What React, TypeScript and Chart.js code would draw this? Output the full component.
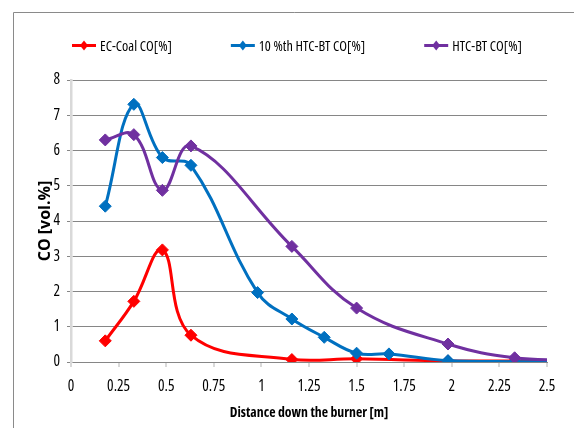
import React, { useEffect, useRef } from "react";
import { Chart, registerables } from "chart.js";

Chart.register(...registerables);

const seriesLabels = ["EC-Coal CO[%]", "10 %th HTC-BT CO[%]", "HTC-BT CO[%]"];
const seriesColors = ["#ff0000", "#0070c0", "#7030a0"];

const ecCoalX = [0.18, 0.33, 0.48, 0.63, 1.16, 1.5, 1.98, 2.33, 2.67];
const ecCoalY = [0.6, 1.72, 3.18, 0.76, 0.07, 0.09, 0.03, 0.03, 0.02];

const htc10X = [0.18, 0.33, 0.48, 0.63, 0.98, 1.16, 1.33, 1.5, 1.67, 1.98, 2.33, 2.67];
const htc10Y = [4.42, 7.31, 5.8, 5.58, 1.97, 1.22, 0.7, 0.25, 0.23, 0.04, 0.01, 0.01];

const htcX = [0.18, 0.33, 0.48, 0.63, 1.16, 1.5, 1.98, 2.33, 2.67];
const htcY = [6.3, 6.45, 4.87, 6.13, 3.28, 1.53, 0.51, 0.12, 0.05];

const xMin = 0;
const xMax = 2.5;
const xStep = 0.25;
const yMin = 0;
const yMax = 8;
const yStep = 1;

const xTitle = "Distance down the burner [m]";
const yTitle = "CO [vol.%]";

const FAMILY = '"Open Sans", sans-serif';

const toPoints = (xs: number[], ys: number[]) => xs.map((x, i) => ({ x, y: ys[i] }));

const framePlugin = {
  id: "frame",
  beforeDraw(chart: any) {
    const ctx = chart.ctx;
    ctx.save();
    ctx.fillStyle = "#ffffff";
    ctx.fillRect(0, 0, chart.width, chart.height);
    ctx.strokeStyle = "#8a8a8a";
    ctx.lineWidth = 1;
    ctx.beginPath();
    ctx.moveTo(13.5, chart.height + 5);
    ctx.lineTo(13.5, 12.5);
    ctx.lineTo(chart.width + 5, 12.5);
    ctx.stroke();
    ctx.restore();
  },
};

const legendPlugin = {
  id: "lineLegend",
  afterDraw(chart: any) {
    const ctx = chart.ctx;
    ctx.save();
    ctx.font = `condensed 14.2px ${FAMILY}`;
    ctx.textBaseline = "middle";
    let x = chart.chartArea.left + 1;
    const y = 45.5;
    chart.data.datasets.forEach((ds: any) => {
      ctx.strokeStyle = ds.borderColor;
      ctx.fillStyle = ds.borderColor;
      ctx.lineWidth = 3;
      ctx.beginPath();
      ctx.moveTo(x, y);
      ctx.lineTo(x + 24, y);
      ctx.stroke();
      const cx = x + 12;
      const r = 5;
      ctx.beginPath();
      ctx.moveTo(cx, y - r);
      ctx.lineTo(cx + r * 0.8, y);
      ctx.lineTo(cx, y + r);
      ctx.lineTo(cx - r * 0.8, y);
      ctx.closePath();
      ctx.fill();
      ctx.fillStyle = "#000000";
      ctx.fillText(ds.label, x + 28, y + 1);
      x += 28 + ctx.measureText(ds.label).width + 59;
    });
    ctx.restore();
  },
};

export default function App() {
  const canvasRef = useRef<HTMLCanvasElement | null>(null);

  useEffect(() => {
    document.body.style.margin = "0";
    const canvas = canvasRef.current;
    if (!canvas) return;
    const xsList = [ecCoalX, htc10X, htcX];
    const ysList = [ecCoalY, htc10Y, htcY];
    const orders = [3, 2, 1];
    const chart = new Chart(canvas, {
      type: "line",
      data: {
        datasets: seriesLabels.map((label, i) => ({
          label,
          data: toPoints(xsList[i], ysList[i]),
          borderColor: seriesColors[i],
          backgroundColor: seriesColors[i],
          pointBackgroundColor: seriesColors[i],
          pointBorderColor: seriesColors[i],
          pointStyle: "rectRot",
          pointRadius: 6,
          pointBorderWidth: 1,
          borderWidth: 3,
          tension: 0.4,
          fill: false,
          order: orders[i],
        })),
      },
      options: {
        responsive: false,
        animation: false,
        events: [],
        layout: { padding: { left: 13, top: 80, right: 27, bottom: 0 } },
        plugins: {
          legend: { display: false },
          tooltip: { enabled: false },
        },
        scales: {
          x: {
            type: "linear",
            min: xMin,
            max: xMax,
            ticks: {
              stepSize: xStep,
              autoSkip: false,
              maxRotation: 0,
              padding: 10,
              color: "#000000",
              font: { family: FAMILY, size: 15.4, weight: "condensed" },
              callback: (v: any) => String(Number(Number(v).toFixed(2))),
            },
            grid: {
              drawOnChartArea: false,
              drawTicks: true,
              tickLength: 5,
              tickColor: "#d9d9d9",
              lineWidth: 2,
            },
            border: { color: "#868686", width: 1 },
            title: {
              display: true,
              text: xTitle,
              color: "#000000",
              font: { family: FAMILY, size: 13.8, weight: "bold condensed" },
              padding: { top: 0, bottom: 7 },
            },
            afterFit: (s: any) => {
              s.height = 66;
            },
          },
          y: {
            min: yMin,
            max: yMax,
            ticks: {
              stepSize: yStep,
              padding: 7,
              color: "#000000",
              font: { family: FAMILY, size: 15.4, weight: "condensed" },
            },
            grid: {
              color: "#868686",
              lineWidth: 1,
              tickLength: 4,
              drawTicks: true,
            },
            border: { color: "#d9d9d9", width: 2.5 },
            title: {
              display: true,
              text: yTitle,
              color: "#000000",
              font: { family: FAMILY, size: 16, weight: "bold" },
              padding: { top: 23, bottom: 0 },
            },
            afterFit: (s: any) => {
              s.width = 58;
            },
          },
        },
      },
      plugins: [framePlugin, legendPlugin],
    } as any);
    return () => chart.destroy();
  }, []);

  return (
    <div style={{ width: 574, height: 428 }}>
      <canvas ref={canvasRef} width={574} height={428} style={{ display: "block" }} />
    </div>
  );
}
